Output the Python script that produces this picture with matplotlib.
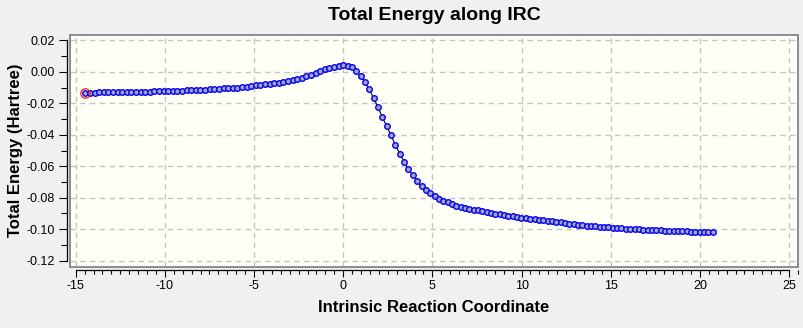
import numpy as np
import matplotlib.pyplot as plt
from matplotlib.patches import Rectangle
from matplotlib.ticker import MultipleLocator

# IRC path: reaction coordinate and total energy (Hartree, relative)
irc_coord = [
    -14.46, -14.20, -13.94, -13.69, -13.43, -13.17, -12.91, -12.65, -12.39, -12.14,
    -11.88, -11.62, -11.36, -11.10, -10.85, -10.59, -10.33, -10.07, -9.81, -9.55,
    -9.30, -9.04, -8.78, -8.52, -8.26, -8.01, -7.75, -7.49, -7.23, -6.97,
    -6.71, -6.46, -6.20, -5.94, -5.68, -5.42, -5.16, -4.91, -4.65, -4.39,
    -4.13, -3.87, -3.62, -3.36, -3.10, -2.84, -2.58, -2.33, -2.07, -1.81,
    -1.55, -1.29, -1.03, -0.78, -0.52, -0.26, 0.00,
    0.24, 0.49, 0.73, 0.98, 1.22, 1.46, 1.71, 1.95, 2.19, 2.44,
    2.68, 2.93, 3.17, 3.41, 3.66, 3.90, 4.14, 4.39, 4.63, 4.88,
    5.12, 5.36, 5.61, 5.85, 6.10, 6.34, 6.58, 6.83, 7.07, 7.31,
    7.56, 7.80, 8.05, 8.29, 8.53, 8.78, 9.02, 9.26, 9.51, 9.75,
    9.99, 10.24, 10.48, 10.73, 10.97, 11.21, 11.46, 11.70, 11.94, 12.19,
    12.43, 12.68, 12.92, 13.16, 13.41, 13.65, 13.90, 14.14, 14.38, 14.63,
    14.87, 15.12, 15.36, 15.60, 15.85, 16.09, 16.34, 16.58, 16.82, 17.07,
    17.31, 17.55, 17.80, 18.04, 18.29, 18.53, 18.77, 19.02, 19.26, 19.50,
    19.75, 19.99, 20.24, 20.48, 20.72,
]
energy = [
    -0.0137, -0.0133, -0.0132, -0.0131, -0.0131, -0.0130, -0.0130, -0.0129, -0.0129, -0.0129,
    -0.0128, -0.0128, -0.0128, -0.0127, -0.0126, -0.0125, -0.0124, -0.0124, -0.0123, -0.0122,
    -0.0121, -0.0120, -0.0118, -0.0117, -0.0116, -0.0115, -0.0113, -0.0111, -0.0110, -0.0108,
    -0.0106, -0.0104, -0.0102, -0.0100, -0.0097, -0.0094, -0.0091, -0.0087, -0.0083, -0.0080,
    -0.0077, -0.0074, -0.0070, -0.0065, -0.0059, -0.0052, -0.0045, -0.0037, -0.0029, -0.0018,
    -0.0005, 0.0007, 0.0016, 0.0024, 0.0033, 0.0039, 0.0045,
    0.0039, 0.0032, 0.0003, -0.0025, -0.0067, -0.0112, -0.0168, -0.0226, -0.0287, -0.0347,
    -0.0403, -0.0467, -0.0520, -0.0570, -0.0619, -0.0658, -0.0696, -0.0727, -0.0751, -0.0771,
    -0.0790, -0.0805, -0.0818, -0.0829, -0.0840, -0.0850, -0.0857, -0.0863, -0.0870, -0.0876,
    -0.0881, -0.0886, -0.0890, -0.0895, -0.0901, -0.0905, -0.0910, -0.0914, -0.0918, -0.0922,
    -0.0926, -0.0929, -0.0933, -0.0936, -0.0940, -0.0943, -0.0946, -0.0949, -0.0952, -0.0956,
    -0.0960, -0.0964, -0.0968, -0.0972, -0.0974, -0.0977, -0.0980, -0.0982, -0.0984, -0.0987,
    -0.0989, -0.0991, -0.0993, -0.0994, -0.0996, -0.0998, -0.0999, -0.1001, -0.1003, -0.1005,
    -0.1006, -0.1007, -0.1008, -0.1009, -0.1010, -0.1011, -0.1012, -0.1013, -0.1014, -0.1015,
    -0.1016, -0.1017, -0.1018, -0.1019, -0.1020,
]
x_ticks = [-15, -10, -5, 0, 5, 10, 15, 20, 25]
y_ticks = [-0.12, -0.10, -0.08, -0.06, -0.04, -0.02, 0.00, 0.02]

plt.rcParams['font.family'] = ['Liberation Sans', 'DejaVu Sans']

fig = plt.figure(figsize=(8.04, 3.28), dpi=100, facecolor='#f0f0f0')
ax = fig.add_axes([70 / 804, 61 / 328, 728 / 804, 232 / 328])
ax.set_facecolor('#fffff6')

ax.plot(irc_coord, energy, color='black', lw=0.8, zorder=2)
ax.plot(irc_coord, energy, ls='none', marker='o', ms=4.0, mfc='#a6a6b2',
        mec='#0000ff', mew=1.0, zorder=3)
# current point on the path
ax.plot(irc_coord[0], energy[0], ls='none', marker='o', ms=6.8, mfc='none',
        mec='#ff0000', mew=0.8, zorder=4)

ax.set_xlim(-15.32, 25.5)
ax.set_ylim(-0.1240, 0.02337)
ax.set_xticks(x_ticks)
ax.set_yticks(y_ticks)
ax.xaxis.set_minor_locator(MultipleLocator(0.5))
ax.yaxis.set_minor_locator(MultipleLocator(0.01))
ax.set_xticklabels([str(t) for t in x_ticks])
ax.set_yticklabels(['%.2f' % t for t in y_ticks])

ax.grid(True, which='major', color='#c4c4c4', ls=(0, (4, 3)), lw=1.0)
ax.set_axisbelow(True)

for side in ['top', 'right']:
    ax.spines[side].set_visible(False)
for side in ['left', 'bottom']:
    ax.spines[side].set_position(('outward', 2.2))
    ax.spines[side].set_linewidth(0.9)
ax.spines['left'].set_bounds(-0.12, 0.02)
ax.spines['bottom'].set_bounds(-15, 25)

# plot frame
ax.add_patch(Rectangle((0, 0), 1, 1, transform=ax.transAxes, fill=False,
                       ec='#878c96', lw=1.4, clip_on=False, zorder=5))

ax.tick_params(axis='x', which='major', direction='out', length=5, width=0.8,
               pad=2, labelsize=9)
ax.tick_params(axis='x', which='minor', direction='out', length=3.2, width=0.8)
ax.tick_params(axis='y', which='major', direction='out', length=5.8, width=0.8,
               pad=3, labelsize=9)
ax.tick_params(axis='y', which='minor', direction='out', length=4, width=0.8)

fig.text(434 / 804, 1 - 16 / 328, 'Total Energy along IRC', ha='center',
         va='center', fontsize=14, fontweight='bold')
fig.text(434 / 804, 1 - 307 / 328, 'Intrinsic Reaction Coordinate', ha='center',
         va='center', fontsize=12, fontweight='bold')
fig.text(16 / 804, 1 - 150 / 328, 'Total Energy (Hartree)', ha='center',
         va='center', rotation=90, fontsize=12, fontweight='bold')

fig.savefig('out.png', dpi=100, facecolor=fig.get_facecolor())
